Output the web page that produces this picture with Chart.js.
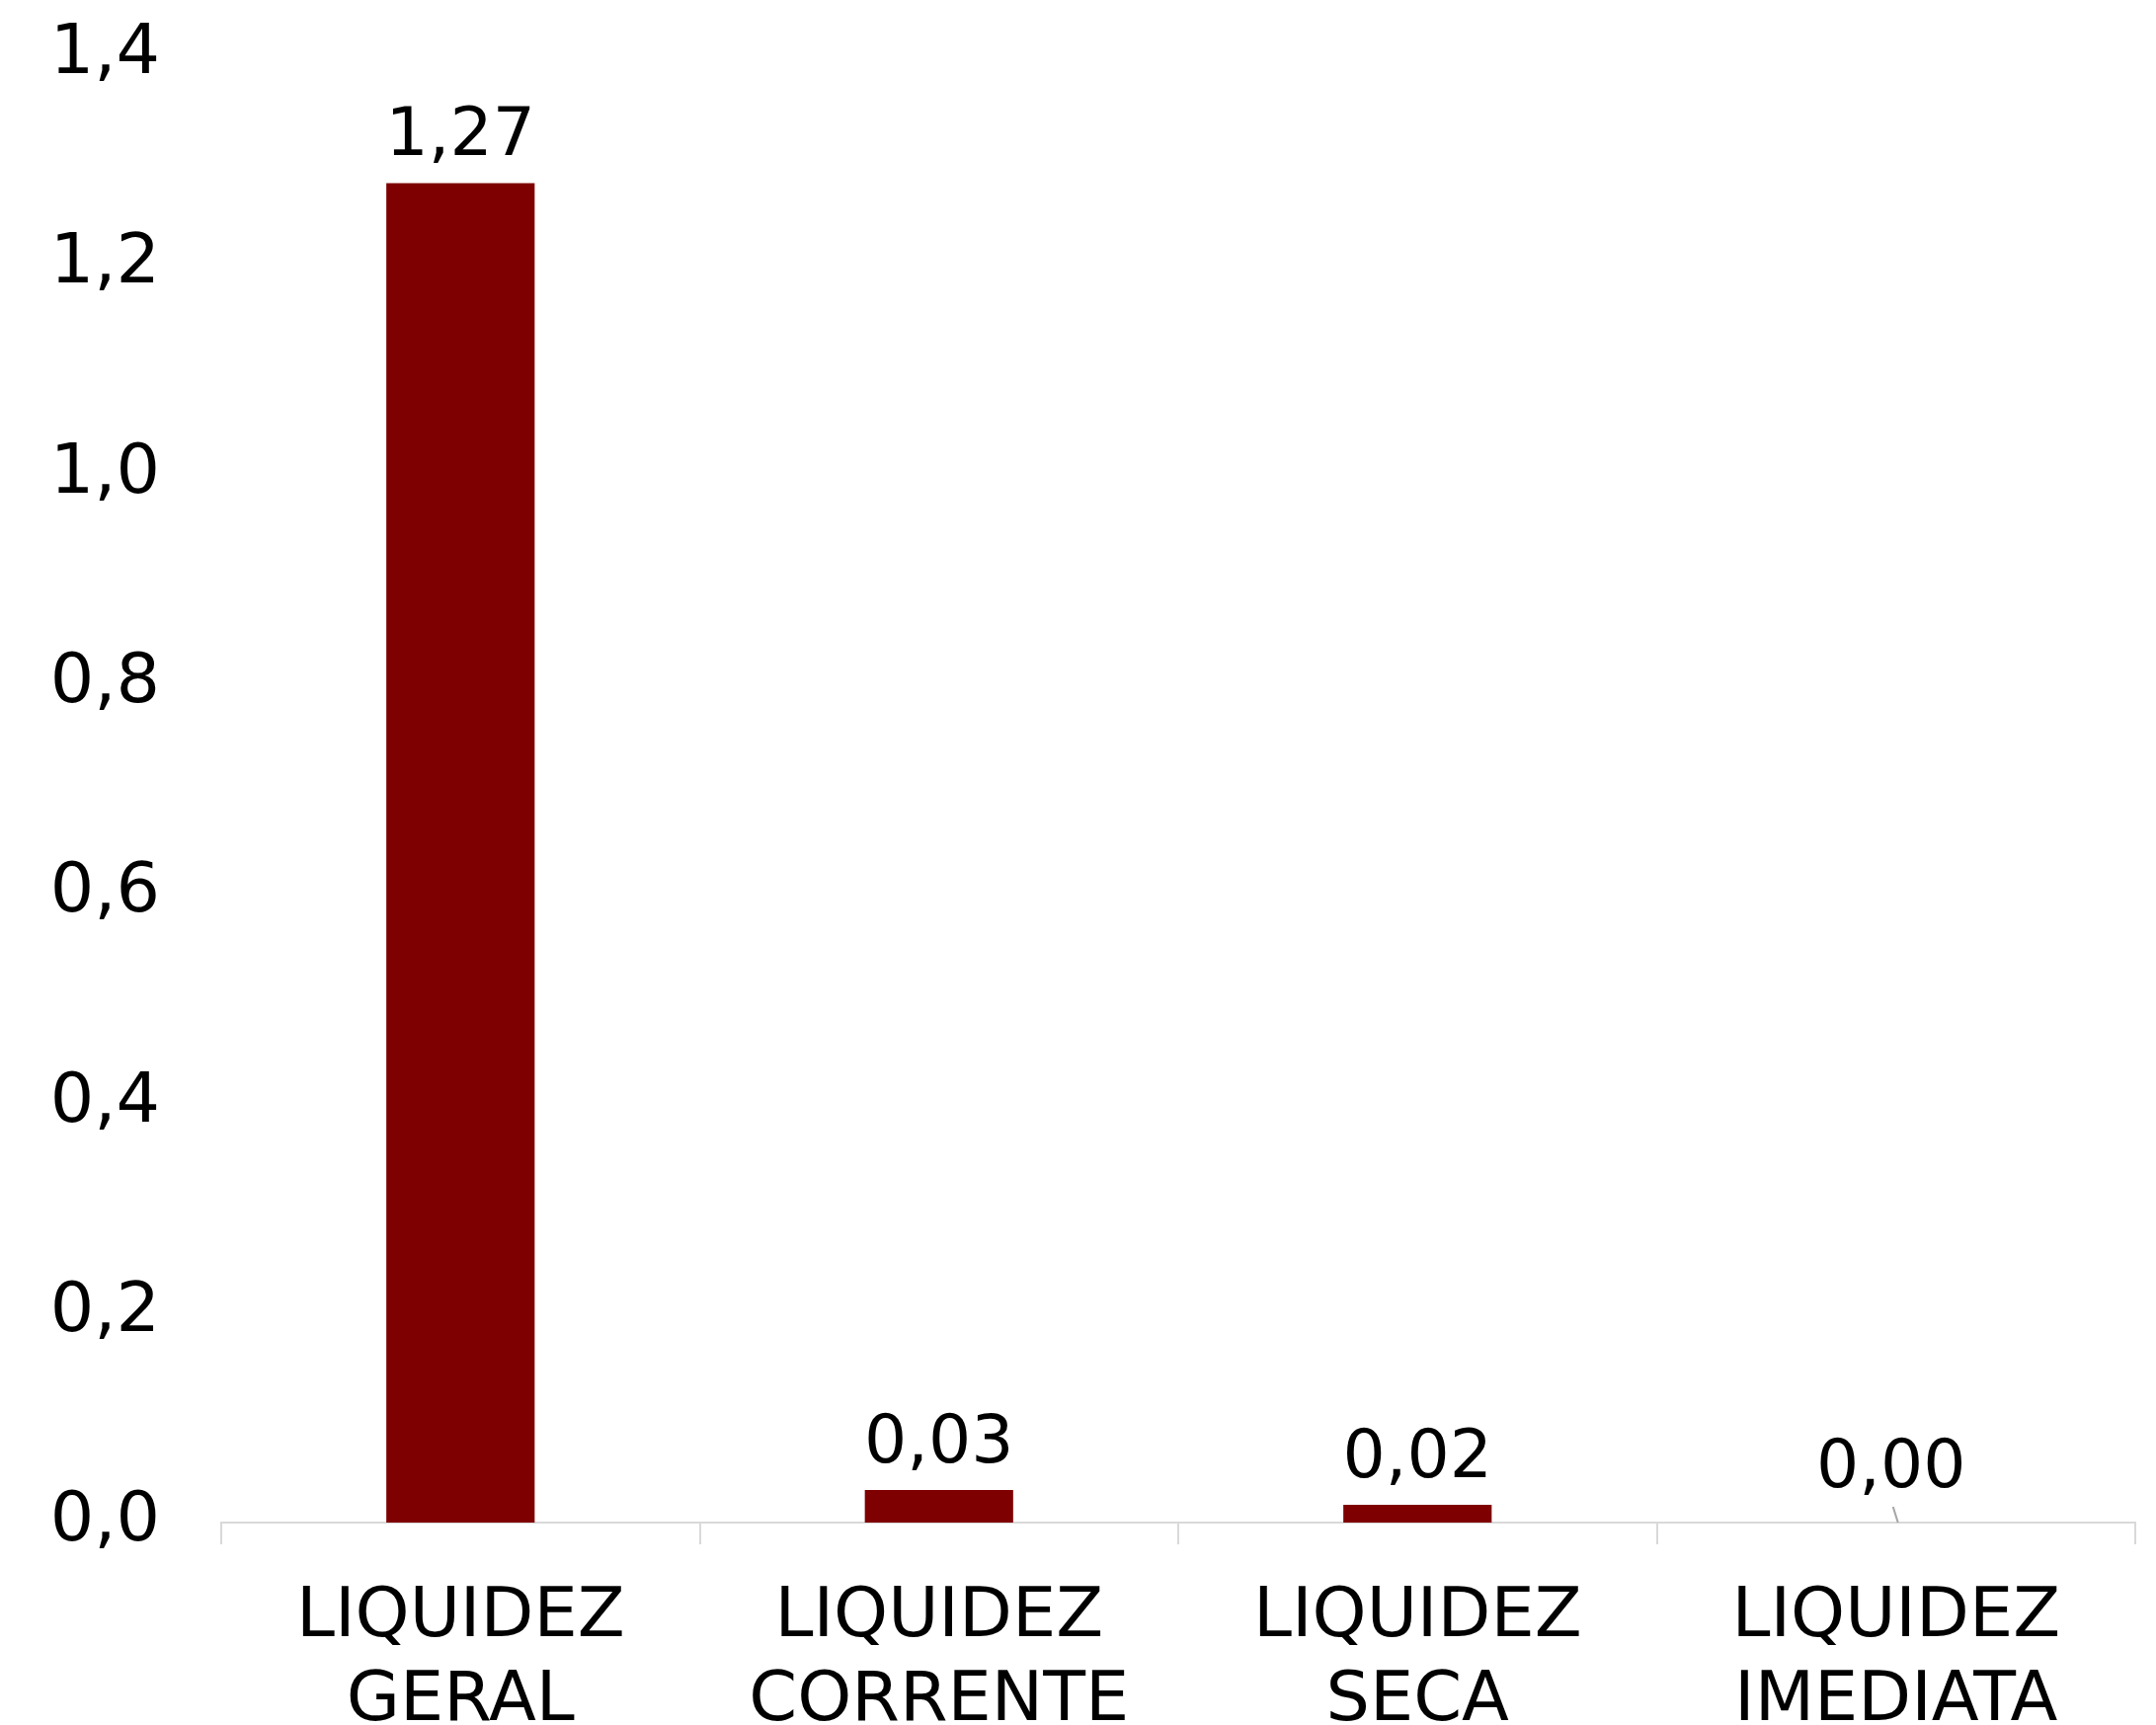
<!DOCTYPE html>
<html>
<head>
<meta charset="utf-8">
<script src="https://cdn.jsdelivr.net/npm/chart.js@4.4.1/dist/chart.umd.min.js"></script>
<style>
  html, body { margin: 0; padding: 0; background: #fff; }
  #wrap { width: 2183px; height: 1747px; }
</style>
</head>
<body>
<div id="wrap"><canvas id="grafico" width="2183" height="1747"></canvas></div>
<script>
const categorias = [["LIQUIDEZ", "GERAL"], ["LIQUIDEZ", "CORRENTE"], ["LIQUIDEZ", "SECA"], ["LIQUIDEZ", "IMEDIATA"]];
const valores = [1.278, 0.031, 0.017, 0.0];
const rotulos = ["1,27", "0,03", "0,02", "0,00"];
const eixo_y_max = 1.4;
const eixo_y_passo = 0.2;

const fonte = "'DejaVu Sans', 'Noto Sans', sans-serif";

// rótulos de valor acima das barras (sem plugin datalabels)
const plugin_rotulos = {
  id: "rotulosValor",
  afterDatasetsDraw: (chart) => {
    const ctx = chart.ctx;
    const meta = chart.getDatasetMeta(0);
    ctx.save();
    ctx.font = "68px " + fonte;
    ctx.fillStyle = "#000";
    ctx.textAlign = "center";
    ctx.textBaseline = "bottom";
    meta.data.forEach((barra, i) => {
      let x = barra.x;
      let y = barra.y - 12;
      if (valores[i] === 0) {
        // valor zero: rótulo deslocado com linha guia
        x = barra.x - 5;
        y = barra.y - 20;
        ctx.strokeStyle = "#a6a6a6";
        ctx.lineWidth = 2;
        ctx.beginPath();
        ctx.moveTo(barra.x - 3, barra.y - 16);
        ctx.lineTo(barra.x + 2, barra.y);
        ctx.stroke();
      }
      ctx.fillText(rotulos[i], x, y);
    });
    ctx.restore();
  },
};

const ctx = document.getElementById("grafico").getContext("2d");
const chart_liquidez = new Chart(ctx, {
  type: "bar",
  data: {
    labels: categorias,
    datasets: [
      {
        label: "Liquidez",
        data: valores,
        backgroundColor: "#7f0000",
        borderWidth: 0,
        categoryPercentage: 1.0,
        barPercentage: 0.31,
      },
    ],
  },
  options: {
    responsive: false,
    animation: false,
    layout: {
      padding: { top: 56, right: 21, bottom: 0, left: 0 },
    },
    plugins: {
      legend: { display: false },
      tooltip: { enabled: false },
    },
    scales: {
      x: {
        grid: {
          display: true,
          drawOnChartArea: false,
          drawTicks: true,
          tickLength: 22,
          color: "#d9d9d9",
          lineWidth: 2,
        },
        border: { display: true, color: "#d9d9d9", width: 2 },
        ticks: {
          color: "#000",
          padding: 32,
          font: { family: fonte, size: 70, lineHeight: 1.22 },
          maxRotation: 0,
        },
        afterFit: (escala) => {
          escala.height = 205;
        },
      },
      y: {
        min: 0,
        max: eixo_y_max,
        // grade oculta; o tickLength só serve de recuo dos rótulos
        grid: { display: false, drawTicks: true, tickLength: 62 },
        border: { display: false },
        ticks: {
          stepSize: eixo_y_passo,
          color: "#000",
          padding: 0,
          font: { family: fonte, size: 70 },
          callback: (v) => v.toFixed(1).replace(".", ","),
        },
        afterFit: (escala) => {
          escala.width = 224;
        },
      },
    },
  },
  plugins: [plugin_rotulos],
});
</script>
</body>
</html>
